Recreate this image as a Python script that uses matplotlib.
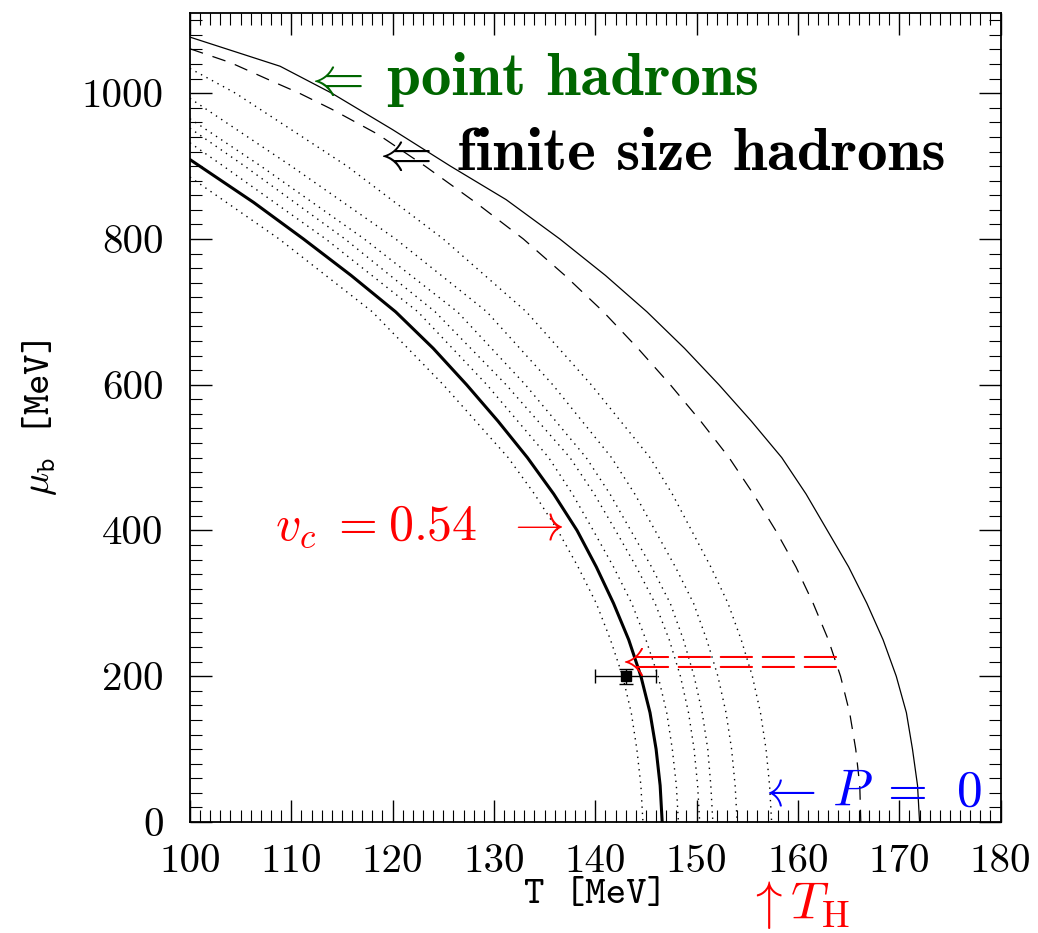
import matplotlib
matplotlib.use("Agg")
import matplotlib.pyplot as plt
from matplotlib.ticker import MultipleLocator, FuncFormatter

plt.rcParams['mathtext.fontset'] = 'cm'
plt.rcParams['font.family'] = ['cmr10', 'DejaVu Serif']
plt.rcParams['axes.unicode_minus'] = False

# --- data ---
# point hadrons (thin solid)
T_point = [100, 108.9, 114.0, 120.0, 125.7, 131.2, 136.5, 141.0, 145.1, 148.8, 152.2, 155.4,
           158.4, 160.8, 162.9, 165.0, 166.8, 168.4, 169.7, 170.7, 171.3, 171.8, 172.0]
mu_point = [1077, 1037, 1000, 950, 900, 854, 800, 750, 700, 650, 600, 550,
            500, 450, 400, 350, 300, 250, 200, 150, 100, 50, 0]

# finite size hadrons (dashed)
T_finite = [100, 104, 108.5, 110.8, 114.0, 118.5, 123.2, 128.2, 132.9, 137.0, 140.8, 144.2,
            147.4, 150.4, 153.2, 155.6, 157.8, 159.8, 161.5, 163.0, 164.2, 165.1, 165.7, 166.1, 166.2]
mu_finite = [1061, 1042, 1014, 1000, 978, 944, 900, 850, 800, 750, 700, 650,
             600, 550, 500, 450, 400, 350, 300, 250, 200, 150, 100, 50, 0]

# v_c = 0.54 (thick solid)
T_vc = [100, 106.3, 111.2, 115.9, 120.3, 124.0, 127.3, 130.4, 133.3, 135.9, 138.2,
        140.1, 141.8, 143.3, 144.5, 145.4, 146.0, 146.4, 146.6]
mu_vc = [909, 850, 800, 750, 700, 650, 600, 550, 500, 450, 400,
         350, 300, 250, 200, 150, 100, 50, 0]

# dotted curves, T at these mu values
mu_grid = [900, 800, 700, 600, 500, 450, 400, 350, 300, 250, 200, 150, 100, 50, 0]
T_dot0 = [None, 108.8, 118.0, 125.0, 131.4, 134.0, 136.3, 138.3, 140.1, 141.5, 142.7, 143.55, 144.1, 144.5, 144.7]
T_dot1 = [103.3, 113.4, 122.5, 129.3, 135.4, 137.75, 139.8, 141.8, 143.6, 145.0, 146.2, 147.05, 147.6, 148.0, 148.2]
T_dot2 = [105.4, 115.3, 124.2, 131.2, 137.5, 139.9, 142.0, 144.05, 145.9, 147.3, 148.4, 149.2, 149.75, 150.1, 150.3]
T_dot3 = [107.0, 117.2, 126.4, 133.1, 139.1, 141.45, 143.5, 145.55, 147.4, 148.7, 149.75, 150.55, 151.1, 151.4, 151.6]
T_dot4 = [110.0, 120.3, 129.3, 135.8, 141.6, 143.9, 145.9, 147.9, 149.7, 151.0, 152.1, 152.9, 153.45, 153.8, 154.0]
T_dot5 = [115.5, 125.0, 133.2, 139.6, 145.4, 147.6, 149.5, 151.4, 153.1, 154.4, 155.5, 156.3, 156.85, 157.2, 157.4]
mu_left_dot = [885, 932, 952, 965, 993, 1034]   # values at T = 100
T_dot5_top, mu_dot5_top = 104.5, 1000

T_point_exp, mu_point_exp = 143.0, 200.0
T_err, mu_err = 3.0, 10.0

fig = plt.figure(figsize=(10.38, 9.33), dpi=100)
ax = fig.add_axes([0.183, 0.119, 0.781, 0.867])

ax.plot(T_point, mu_point, color='black', lw=0.9)
ax.plot(T_finite, mu_finite, color='black', lw=0.9, dashes=(11, 8))
ax.plot(T_vc, mu_vc, color='black', lw=2.2)

dots = [T_dot0, T_dot1, T_dot2, T_dot3, T_dot4, T_dot5]
for i, (Ts, mleft) in enumerate(zip(dots, mu_left_dot)):
    xs = [100.0]
    ys = [mleft]
    if i == 5:
        xs.append(T_dot5_top)
        ys.append(mu_dot5_top)
    for t, m in zip(Ts, mu_grid):
        if t is None:
            continue
        xs.append(t)
        ys.append(m)
    ax.plot(xs, ys, color='black', lw=1.0, linestyle=(0, (1, 3.5)))

ax.errorbar([T_point_exp], [mu_point_exp], xerr=[T_err], yerr=[mu_err], fmt='s',
            color='black', ms=7, lw=1, capsize=5, capthick=1)

ax.set_xlim(100, 180)
ax.set_ylim(0, 1110)

ax.xaxis.set_major_locator(MultipleLocator(10))
ax.xaxis.set_minor_locator(MultipleLocator(1))
ax.yaxis.set_major_locator(MultipleLocator(200))
ax.yaxis.set_minor_locator(MultipleLocator(20))
ax.tick_params(which='both', direction='in', top=True, right=True, labelsize=29.5)
ax.tick_params(axis='x', which='major', pad=16)
ax.tick_params(axis='y', which='major', pad=19)
ax.tick_params(which='major', length=16, width=1.0)
ax.tick_params(which='minor', length=8.5, width=0.8)
ax.xaxis.set_major_formatter(FuncFormatter(lambda v, p: '%d' % v))
ax.yaxis.set_major_formatter(FuncFormatter(lambda v, p: '%d' % v))
for s in ax.spines.values():
    s.set_linewidth(1.3)

ax.set_xlabel('T [MeV]', fontsize=28, fontfamily='cmtt10', va='baseline')
ax.xaxis.set_label_coords(0.5, -0.1)
ax.set_ylabel(r'$\mu_{\mathtt{b}}$ [MeV]', fontsize=28, fontfamily='cmtt10', va='center')
ax.yaxis.set_label_coords(-0.185, 0.5)

green = (0, 0.4, 0)
ax.text(111.1, 997, r'$\Leftarrow$', color=green, fontsize=38, ha='left', va='baseline')
ax.text(119.4, 997, 'point hadrons', color=green, fontfamily='cmb10',
        fontsize=44, ha='left', va='baseline')
ax.text(117.8, 894, r'$\Leftarrow$', color='black', fontsize=38, ha='left', va='baseline')
ax.text(126.4, 894, 'finite size hadrons', color='black', fontfamily='cmb10',
        fontsize=44, ha='left', va='baseline')
ax.text(108.4, 387, r'$v_c\;=$', color='red',
        fontsize=36, ha='left', va='baseline')
ax.text(119.5, 387, r'$0.54\ \ \rightarrow$', color='red',
        fontsize=36, ha='left', va='baseline')
ax.text(155.9, 22, r'$\leftarrow\,P\;=\;\,0$', color='blue',
        fontsize=37, ha='left', va='baseline')
ax.text(154.9, -133, r'$\uparrow T_{\mathrm{H}}$', color='red',
        fontsize=38, ha='left', va='baseline', clip_on=False)
ax.text(141.7, 219, r'$\Leftarrow\!\!=\!\!=\!\!=\!\!=$', color='red',
        fontsize=36, ha='left', va='center')

fig.savefig('out.png', dpi=100)
